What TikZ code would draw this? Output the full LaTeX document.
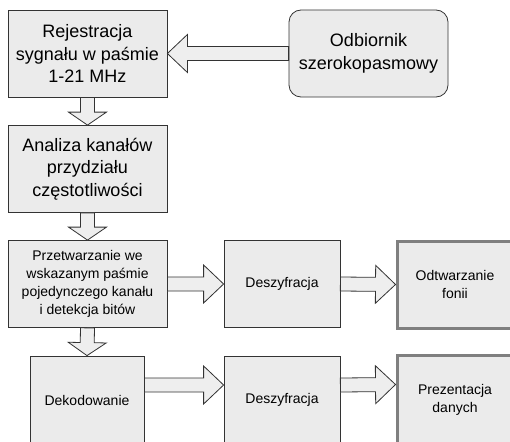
\documentclass[tikz,border=0pt]{standalone}
\usepackage{fontspec}
\setmainfont{Liberation Sans}
\usetikzlibrary{calc}
\definecolor{boxfill}{HTML}{EBEBEB}
\definecolor{arrowfill}{HTML}{EEEEEE}
\definecolor{edge}{HTML}{333333}
\definecolor{thickedge}{HTML}{7F7F7F}

\begin{document}
\begin{tikzpicture}[x=1pt, y=1pt,
    block/.style={draw=edge, fill=boxfill, line width=0.8pt, align=center,
                  minimum width=#1, minimum height=87pt, inner sep=0pt},
    block/.default=159pt,
    bigtext/.style={font=\fontsize{18pt}{22.5pt}\selectfont},
    smalltext/.style={font=\fontsize{14pt}{18pt}\selectfont},
    output/.style={draw=thickedge, line width=3pt},
    blockarrow/.style={draw=edge, fill=arrowfill, line width=0.8pt, line join=miter,
        to path={($(\tikztotarget)!#1!(\tikztostart)$) coordinate (ah)
                 ($(\tikztostart)!7pt!90:(\tikztotarget)$)
                 -- ($(ah)!7pt!90:(\tikztotarget)$)
                 -- ($(ah)!19pt!90:(\tikztotarget)$)
                 -- (\tikztotarget)
                 -- ($(ah)!19pt!-90:(\tikztotarget)$)
                 -- ($(ah)!7pt!-90:(\tikztotarget)$)
                 -- ($(\tikztostart)!7pt!-90:(\tikztotarget)$) -- cycle}},
    blockarrow/.default=20pt,
]
\useasboundingbox (0,0) rectangle (510,-441);

% Wejscie
\node[block, bigtext] (rej) at (87.5,-53.5) {Rejestracja\\sygnału w paśmie\\1-21 MHz};
\node[block, bigtext, rounded corners=12pt] (odb) at (368.5,-53.5) {Odbiornik\\szerokopasmowy};
\node[block, bigtext] (ana) at (87.5,-169) {Analiza kanałów\\przydziału\\częstotliwości};

% Wiersz 1
\node[block, smalltext] (prz) at (87.5,-284) {Przetwarzanie we\\wskazanym paśmie\\pojedynczego kanału\\i detekcja bitów};
\node[block=116pt, smalltext] (desa) at (282,-284) {Deszyfracja};
\node[block=116pt, smalltext, output] (odt) at (455,-284.5) {Odtwarzanie\\fonii};

% Wiersz 2
\node[block=114pt, smalltext, minimum height=88pt] (dek) at (87,-400) {Dekodowanie};
\node[block=116pt, smalltext, minimum height=88pt] (desb) at (282,-400) {Deszyfracja};
\node[block=116pt, smalltext, minimum height=88pt, output] (pre) at (455,-399.5) {Prezentacja\\danych};

\coordinate (dekout) at ($(dek.east)+(0,15)$);
\coordinate (desbin) at ($(desb.west)+(0,15)$);
\coordinate (desbout) at ($(desb.east)+(0,15)$);
\coordinate (prein) at ($(pre.west)+(0,15)$);

% Strzalki
\draw[blockarrow] (odb.west) to (rej.east);
\draw[blockarrow=13pt] (rej.south) to (ana.north);
\draw[blockarrow=13pt] (ana.south) to (prz.north);
\draw[blockarrow] (prz.east) to (desa.west);
\draw[blockarrow] (desa.east) to (odt.west);
\draw[blockarrow=13pt] (prz.south) to (dek.north);
\draw[blockarrow] (dekout) to (desbin);
\draw[blockarrow] (desbout) to (prein);

\end{tikzpicture}
\end{document}
